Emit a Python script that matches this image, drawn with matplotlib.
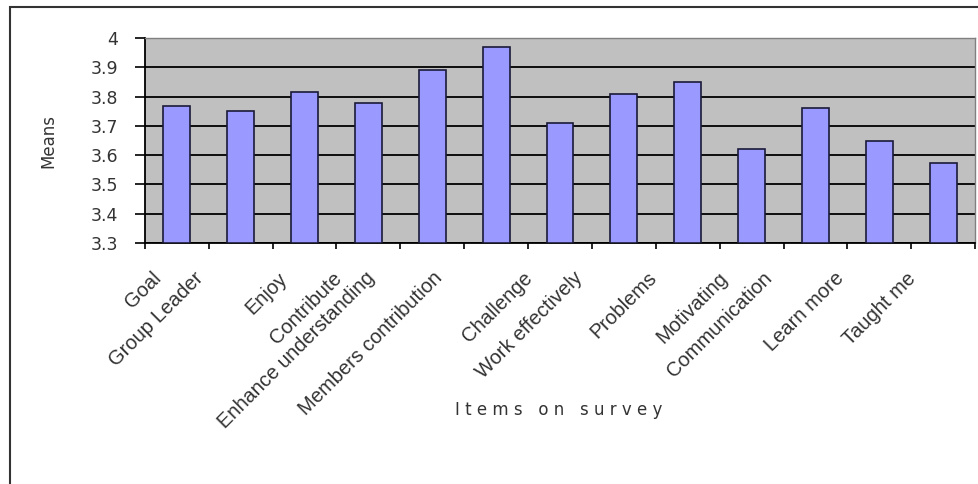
import matplotlib
matplotlib.use('Agg')
import matplotlib.pyplot as plt
import matplotlib.transforms as mtransforms
from matplotlib.patches import Rectangle

plt.rcParams['font.family'] = ['Liberation Sans', 'DejaVu Sans']

# dados
itens = ['Goal', 'Group Leader', 'Enjoy', 'Contribute', 'Enhance understanding',
         'Members contribution', 'Challenge', 'Work effectively', 'Problems',
         'Motivating', 'Communication', 'Learn more', 'Taught me']
medias = [3.77, 3.75, 3.815, 3.78, 3.89, 3.97, 3.71, 3.81, 3.85, 3.62, 3.76, 3.65, 3.575]

# deslocamento horizontal de cada rotulo (em unidades de categoria), como no original
DESLOC_ROTULO = [-0.39, -0.74, -0.42, -0.56, -1.05, -0.99, -0.58, -0.80, -0.63,
                 -0.53, -0.83, -0.70, -0.58]

COR_BARRA = '#9999FF'
COR_FUNDO_PLOT = '#C0C0C0'

fig = plt.figure(figsize=(9.79, 4.84), dpi=100)
fig.patch.set_facecolor('white')
ax = fig.add_axes([0.148, 0.498, 0.848, 0.423])
ax.set_facecolor(COR_FUNDO_PLOT)

x = list(range(len(itens)))
ax.bar(x, [m - 3.3 for m in medias], bottom=3.3, width=0.42, color=COR_BARRA,
       edgecolor='#1a1a3a', linewidth=1.2, zorder=3)

ax.set_xlim(-0.5, len(itens) - 0.5)
ax.set_ylim(3.3, 4.0)
ax.set_yticks([3.3, 3.4, 3.5, 3.6, 3.7, 3.8, 3.9, 4.0])
ax.set_yticklabels(['3.3', '3.4', '3.5', '3.6', '3.7', '3.8', '3.9', '4'],
                   family='DejaVu Sans')
ax.yaxis.grid(True, color='black', linewidth=1.3, zorder=1)
ax.set_axisbelow(True)

ax.set_xticks([i - 0.5 for i in range(len(itens) + 1)])
ax.set_xticklabels([])
ax.tick_params(axis='x', direction='out', length=4, width=1.2, color='black')
ax.tick_params(axis='y', direction='out', length=7, width=1.2, color='black',
               labelsize=12.5, labelcolor='#333333', pad=12)

for lado in ['left', 'bottom']:
    ax.spines[lado].set_color('black')
    ax.spines[lado].set_linewidth(1.3)
for lado in ['top', 'right']:
    ax.spines[lado].set_color('#808080')
    ax.spines[lado].set_linewidth(1.0)

# rotulos das categorias inclinados a 45 graus
trans = mtransforms.blended_transform_factory(ax.transData, ax.transAxes)
for i, nome in enumerate(itens):
    ax.text(i + DESLOC_ROTULO[i], -0.125, nome, transform=trans, rotation=45,
            rotation_mode='anchor', ha='right', va='top', fontsize=14.5,
            color='#333333')

fig.text(48 / 979, 1 - 141 / 484, 'Means', rotation=90, ha='center', va='center',
         fontsize=12, color='#333333', family='DejaVu Sans')
fig.text(0.571, 0.153, 'I t e m s   o n   s u r v e y', ha='center', va='center',
         fontsize=12, color='#333333', family='DejaVu Sans')

# moldura externa (cortada a direita e embaixo, como no original)
fig.patches.append(Rectangle((10 / 979, -0.1), 2.0, 1 - 7 / 484 + 0.1,
                             transform=fig.transFigure, fill=False,
                             edgecolor='#333333', linewidth=1.5))

fig.savefig('out.png', dpi=100, facecolor='white')
